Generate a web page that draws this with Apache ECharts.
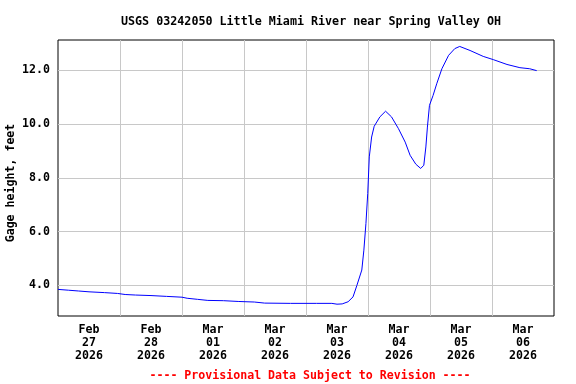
<!DOCTYPE html>
<html>
<head>
<meta charset="utf-8">
<script src="https://cdn.jsdelivr.net/npm/echarts@6/dist/echarts.min.js"></script>
<style>html,body{margin:0;padding:0;background:#fff}#c{width:576px;height:384px}</style>
</head>
<body>
<div id="c"></div>
<script>
// hours since 2026-02-27 00:00
var hours = [0, 4, 8, 12, 18, 23, 26, 30, 36, 42, 48, 50, 54, 58, 64, 70, 76, 80, 90, 100, 106, 108, 110, 112.3, 114.2, 115.7, 117.6, 118.4, 119.2, 119.9, 120.5, 121.4, 122.4, 124.6, 126.8, 129.1, 131.8, 134.4, 136.3, 138.5, 140.4, 141.6, 142.4, 143, 143.8, 145.2, 146.6, 148.6, 151.2, 153.6, 155.5, 159.5, 164.6, 168.5, 173.8, 178.8, 182.6, 185.3];
var gageFeet = [3.85, 3.82, 3.79, 3.76, 3.73, 3.70, 3.66, 3.64, 3.62, 3.59, 3.56, 3.52, 3.48, 3.44, 3.43, 3.40, 3.38, 3.34, 3.33, 3.33, 3.33, 3.30, 3.31, 3.39, 3.57, 4.0, 4.57, 5.31, 6.30, 7.42, 8.78, 9.52, 9.92, 10.27, 10.48, 10.27, 9.83, 9.33, 8.84, 8.51, 8.35, 8.47, 9.15, 9.89, 10.70, 11.07, 11.50, 12.06, 12.56, 12.81, 12.89, 12.74, 12.52, 12.40, 12.22, 12.10, 12.06, 11.99];
var xLabelHours = [12, 36, 60, 84, 108, 132, 156, 180];
var xLabels = ['Feb\n27\n2026', 'Feb\n28\n2026', 'Mar\n01\n2026', 'Mar\n02\n2026', 'Mar\n03\n2026', 'Mar\n04\n2026', 'Mar\n05\n2026', 'Mar\n06\n2026'];
var xGridHours = [24, 48, 72, 96, 120, 144, 168];
var yTicks = [4, 6, 8, 10, 12];
var yName = 'Gage height, feet';

var font = '"DejaVu Sans Mono", monospace';
var chart = echarts.init(document.getElementById('c'), null, {renderer: 'canvas'});
chart.setOption({
  animation: false,
  backgroundColor: '#fff',
  title: [{
    text: 'USGS 03242050 Little Miami River near Spring Valley OH',
    left: 306, top: 11, textAlign: 'center',
    textStyle: {fontFamily: font, fontSize: 11.7, fontWeight: 'bold', color: '#000'}
  }, {
    text: '---- Provisional Data Subject to Revision ----',
    left: 305, top: 365, textAlign: 'center',
    textStyle: {fontFamily: font, fontSize: 11.6, fontWeight: 'bold', color: '#ff0000'}
  }],
  graphic: [{
    type: 'text', x: 11, y: 183, rotation: Math.PI / 2,
    style: {text: yName, fill: '#000', font: 'bold 11.6px ' + font, textAlign: 'center', textVerticalAlign: 'middle'}
  }],
  grid: {left: 58, right: 22, top: 40, bottom: 68, outerBoundsMode: 'none', containLabel: false, show: true, borderColor: '#000', borderWidth: 1, backgroundColor: 'transparent'},
  xAxis: {
    type: 'value', min: 0, max: 192,
    axisLine: {show: false},
    axisTick: {show: false, customValues: xGridHours},
    splitLine: {show: true, lineStyle: {color: '#c8c8c8', width: 1}},
    axisLabel: {
      customValues: xLabelHours,
      margin: 8,
      lineHeight: 12.8,
      fontFamily: font, fontSize: 11.6, fontWeight: 'bold', color: '#000',
      formatter: function (v) { var i = xLabelHours.indexOf(v); return i >= 0 ? xLabels[i] : ''; }
    }
  },
  yAxis: {
    type: 'value', min: 2.86, max: 13.13,
    axisLine: {show: false},
    axisTick: {show: false, customValues: yTicks},
    splitLine: {show: true, lineStyle: {color: '#c8c8c8', width: 1}},
    axisLabel: {
      customValues: yTicks, margin: 8,
      fontFamily: font, fontSize: 11.6, fontWeight: 'bold', color: '#000',
      formatter: function (v) { return v.toFixed(1); }
    }
  },
  series: [{
    type: 'line',
    data: hours.map(function (h, i) { return [h, gageFeet[i]]; }),
    showSymbol: false, smooth: false,
    lineStyle: {color: '#0000ff', width: 1},
    itemStyle: {color: '#0000ff'}
  }]
});
</script>
</body>
</html>
